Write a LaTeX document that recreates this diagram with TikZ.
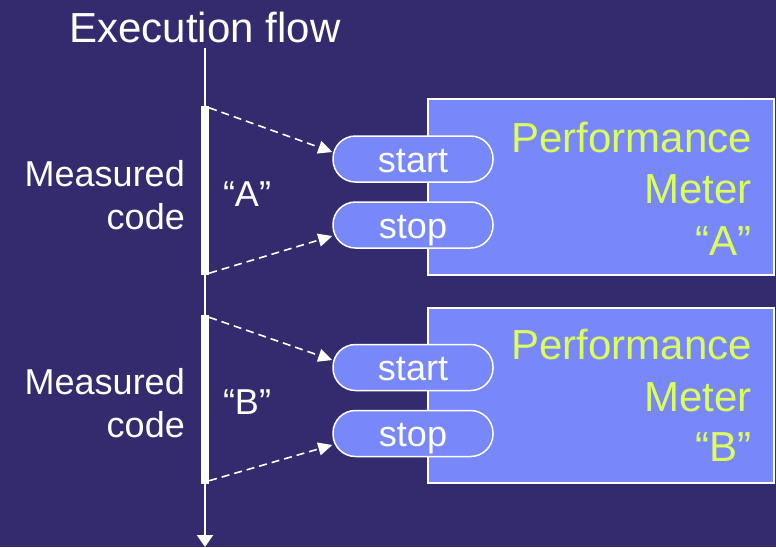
\documentclass[tikz,border=0pt]{standalone}
\usepackage{fontspec}
\setmainfont{Liberation Sans}
\usetikzlibrary{arrows.meta}
\definecolor{bgcol}{RGB}{51,43,110}
\definecolor{boxcol}{RGB}{120,136,250}
\definecolor{meteryellow}{RGB}{220,255,90}
\tikzset{
  meterbox/.style={draw=white, line width=1.5pt, fill=boxcol},
  pill/.style={draw=white, line width=1.5pt, fill=boxcol, rounded corners=22.5pt,
    minimum width=160pt, minimum height=46pt, inner sep=0pt,
    text=white, font=\fontsize{36}{40}\selectfont, text height=26pt, text depth=0pt},
  bar/.style={fill=white, minimum width=8pt, inner sep=0pt},
  lbl/.style={text=white, font=\fontsize{36}{40}\selectfont, inner sep=0pt},
  meter/.style={text=meteryellow, font=\fontsize{42}{48}\selectfont, inner sep=0pt, anchor=base east},
  dasharrow/.style={draw=white, line width=1.6pt, dash pattern=on 8pt off 5pt,
    -{Triangle[length=14pt,width=13pt]}},
}
\begin{document}
\begin{tikzpicture}[x=1pt,y=-1pt]
\useasboundingbox (0,0) rectangle (776,547);
\fill[bgcol] (0,0) rectangle (776,547);

% title and flow line
\node[lbl, font=\fontsize{42}{48}\selectfont, anchor=base] (title) at (205,42) {Execution flow};
\coordinate (flowtop) at (205,48);
\coordinate (flowbot) at (205,547);
\draw[white, line width=2pt, -{Triangle[length=12pt,width=16pt]}] (flowtop) -- (flowbot);

% bars
\node[bar, minimum height=169pt] (barA) at (205,190.5) {};
\node[bar, minimum height=169pt] (barB) at (205,399) {};

% meter boxes
\node[meterbox, minimum width=346pt, minimum height=176pt, inner sep=0pt] (boxA) at (601,187) {};
\node[meterbox, minimum width=346pt, minimum height=175pt, inner sep=0pt] (boxB) at (601,395.5) {};

% pills
\node[pill] (startA) at (413,159) {start};
\node[pill] (stopA) at (413,225) {stop};
\node[pill] (startB) at (413,367.5) {start};
\node[pill] (stopB) at (413,433.5) {stop};

% left labels
\node[lbl, anchor=base east] (measA1) at (185,186) {Measured};
\node[lbl, anchor=base east] (measA2) at (185,229) {code};
\node[lbl, anchor=base east] (measB1) at (185,394.5) {Measured};
\node[lbl, anchor=base east] (measB2) at (185,437.5) {code};
\node[lbl, anchor=base] (qA) at (247,206) {“A”};
\node[lbl, anchor=base] (qB) at (247,414.5) {“B”};

% meter texts
\node[meter] (pmA1) at (752,152) {Performance};
\node[meter] (pmA2) at (752,203) {Meter};
\node[meter] (pmA3) at (752,255) {“A”};
\node[meter] (pmB1) at (752,359) {Performance};
\node[meter] (pmB2) at (752,411) {Meter};
\node[meter] (pmB3) at (752,461) {“B”};

% dashed arrows
\draw[dasharrow] ([yshift=-2pt]barA.north east) -- ([yshift=7pt]startA.west);
\draw[dasharrow] ([yshift=2pt]barA.south east) -- ([yshift=-11pt]stopA.west);
\draw[dasharrow] ([yshift=-3pt]barB.north east) -- ([yshift=7.5pt]startB.west);
\draw[dasharrow] ([yshift=3pt]barB.south east) -- ([yshift=-11.5pt]stopB.west);
\end{tikzpicture}
\end{document}
